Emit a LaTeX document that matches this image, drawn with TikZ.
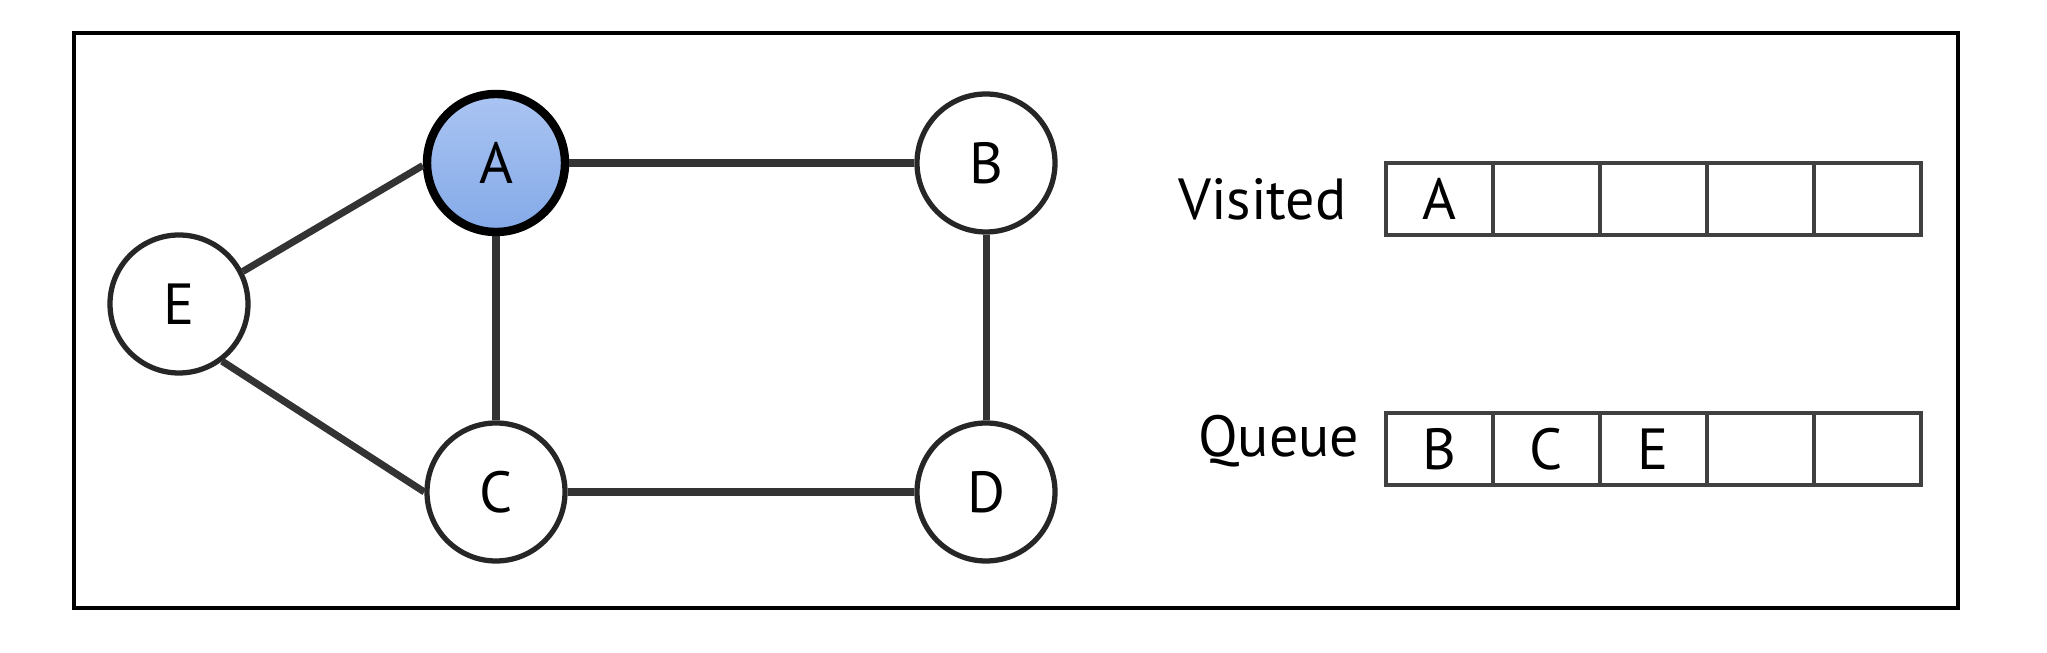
\documentclass[tikz,border=0pt]{standalone}
\usepackage{fontspec}
\setmainfont{PT Sans}
\usetikzlibrary{positioning}
\definecolor{visitblue}{RGB}{132,170,232}
\definecolor{visitlight}{RGB}{170,196,242}

\begin{document}
\begin{tikzpicture}[node distance=0pt, font=\fontsize{16.5}{19}\selectfont,
  vertex/.style={circle, draw=black!85, line width=1.5pt, minimum size=1.38cm, inner sep=0pt, fill=white},
  cell/.style={rectangle, draw=black!75, line width=1.3pt, minimum width=1.07cm, minimum height=0.72cm, inner sep=0pt, outer sep=0pt},
  link/.style={draw=black!80, line width=2pt}]
\useasboundingbox (0,0) rectangle (20.47,6.53);
\draw[line width=0.9pt] (0.74,0.45) rectangle (19.58,6.20);
% graph
\node[vertex, line width=2.4pt, draw=black, top color=visitlight, bottom color=visitblue] (A) at (4.96,4.90) {A};
\node[vertex] (B) at (9.86,4.90) {B};
\node[vertex] (E) at (1.79,3.49) {E};
\node[vertex] (C) at (4.96,1.61) {C};
\node[vertex] (D) at (9.86,1.61) {D};
\draw[link] (A) -- (B);
\draw[link] (A) -- (C);
\draw[link] (B) -- (D);
\draw[link] (C) -- (D);
\draw[link] (E.27) -- (A.182);
\draw[link] (E.-53) -- (C.180);
% visited
\node[cell] (v1) at (14.395,4.54) {A};
\node[cell, right=of v1] (v2) {};
\node[cell, right=of v2] (v3) {};
\node[cell, right=of v3] (v4) {};
\node[cell, right=of v4] (v5) {};
\node[anchor=east, inner sep=0pt] (visited) at (13.47,4.54) {Visited};
% queue
\node[cell] (q1) at (14.395,2.04) {B};
\node[cell, right=of q1] (q2) {C};
\node[cell, right=of q2] (q3) {E};
\node[cell, right=of q3] (q4) {};
\node[cell, right=of q4] (q5) {};
\node[anchor=east, inner sep=0pt] (queue) at (13.60,2.12) {Queue};
\end{tikzpicture}
\end{document}
